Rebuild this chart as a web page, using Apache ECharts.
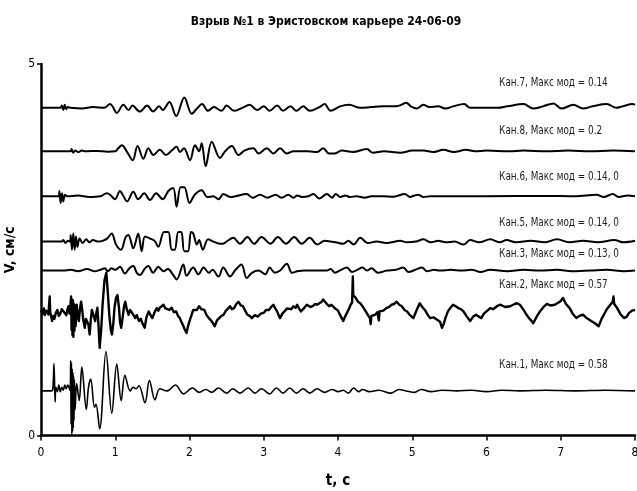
<!DOCTYPE html>
<html><head><meta charset="utf-8">
<script src="https://cdn.jsdelivr.net/npm/echarts@6/dist/echarts.min.js"></script>
<style>html,body{margin:0;padding:0;background:#fff}#c{width:637px;height:491px}</style>
</head><body><div id="c"></div>
<script>
const chartTitle = 'Взрыв №1 в Эристовском карьере 24-06-09';
const xName = 't, c';
const yName = 'V, см/с';
const xTicks = [0, 1, 2, 3, 4, 5, 6, 7, 8];
const yTicks = [0, 5];
const channelNames = ['Кан.7', 'Кан.8', 'Кан.6', 'Кан.5', 'Кан.3', 'Кан.2', 'Кан.1'];
const maxMods = ['0.14', '0.2', '0.14, 0', '0.14, 0', '0.13, 0', '0.57', '0.58'];
// trace offsets on the V axis
const baselines = [4.41, 3.825, 3.22, 2.61, 2.22, 1.67, 0.60];

// velocity traces [t, V] (cm/s)
const kan7 = [[0,0],[0.26,0],[0.28,0.03],[0.30,-0.03],[0.32,0.04],[0.34,-0.02],[0.36,0.01],[0.40,0],[0.55,-0.01],[0.70,0.01],[0.85,0],[0.93,0.05],[0.97,0.01],[1.02,-0.07],[1.11,0.04],[1.18,-0.03],[1.23,0.03],[1.33,-0.05],[1.43,0.03],[1.51,-0.05],[1.59,0.02],[1.64,-0.03],[1.73,0.08],[1.82,-0.11],[1.93,0.14],[2.03,-0.08],[2.10,-0.01],[2.17,0.05],[2.25,-0.04],[2.33,0.01],[2.43,-0.04],[2.50,0.03],[2.60,-0.04],[2.71,0],[2.81,0.04],[2.91,-0.03],[3.00,0.02],[3.08,-0.04],[3.18,0.03],[3.26,-0.04],[3.36,0.02],[3.44,-0.04],[3.53,0.02],[3.62,-0.04],[3.75,0.01],[3.82,0.05],[3.90,-0.04],[4.03,0.02],[4.15,0.04],[4.30,0],[4.45,0.01],[4.60,0.02],[4.78,0.02],[4.85,0.04],[4.92,0.07],[4.98,0.02],[5.06,-0.01],[5.15,0.04],[5.23,0.01],[5.35,0.02],[5.45,-0.01],[5.55,0.02],[5.70,0.05],[5.78,0],[5.90,0],[6.15,0],[6.28,0.02],[6.50,0.05],[6.63,-0.01],[6.76,0.02],[6.90,0.06],[7.01,-0.01],[7.17,0.04],[7.30,-0.01],[7.43,0.02],[7.62,0.05],[7.75,0],[7.83,0.02],[7.97,0.05],[8.0,0.04]];
const kan8 = [[0,0],[0.40,0],[0.41,0.03],[0.435,-0.02],[0.46,0.01],[0.50,-0.01],[0.55,0.01],[0.60,0],[0.75,0.005],[0.90,-0.005],[1.00,0],[1.04,0.04],[1.09,0.08],[1.16,-0.01],[1.235,-0.12],[1.30,0.07],[1.378,-0.10],[1.446,0.04],[1.513,-0.05],[1.60,0.02],[1.683,-0.05],[1.76,0.01],[1.827,0.06],[1.87,-0.01],[1.926,0.04],[2.007,-0.12],[2.074,0.08],[2.13,0],[2.164,0.11],[2.218,-0.20],[2.30,0.13],[2.41,-0.09],[2.48,0],[2.57,0.07],[2.66,-0.05],[2.74,0.01],[2.86,0.04],[2.93,-0.03],[3.04,0.04],[3.13,-0.03],[3.22,0.04],[3.31,-0.03],[3.40,0],[3.60,0],[3.72,-0.01],[3.80,0.04],[3.88,-0.03],[3.95,-0.03],[4.05,0.01],[4.20,-0.01],[4.39,0.03],[4.47,-0.02],[4.62,0],[4.84,-0.02],[5.00,0.01],[5.15,0.01],[5.28,-0.01],[5.42,0.02],[5.56,-0.01],[5.72,0.02],[5.85,0],[6.0,0.01],[6.3,0],[6.5,0.01],[6.8,0],[7.1,0.01],[7.4,0],[7.7,0.01],[8.0,0]];
const kan6 = [[0,0],[0.24,0],[0.247,0.07],[0.265,-0.09],[0.283,0.04],[0.30,-0.07],[0.323,0.02],[0.35,0],[0.50,0.01],[0.65,-0.01],[0.80,0],[0.885,0.04],[0.93,0.02],[0.997,-0.04],[1.064,0.07],[1.10,0.02],[1.16,-0.07],[1.243,0.06],[1.31,-0.04],[1.39,0.04],[1.468,-0.05],[1.55,0.04],[1.64,-0.04],[1.715,0.07],[1.78,0.11],[1.827,-0.14],[1.88,0.12],[1.93,0.12],[2.00,-0.09],[2.07,0.02],[2.164,0.08],[2.24,-0.01],[2.32,0],[2.39,-0.04],[2.455,0.03],[2.55,-0.01],[2.62,0],[2.77,0.03],[2.85,-0.02],[2.95,0.02],[3.05,-0.02],[3.16,0.02],[3.24,-0.02],[3.33,0.02],[3.40,-0.02],[3.45,0.01],[3.52,-0.01],[3.60,0],[3.67,0.03],[3.75,-0.03],[3.85,0.03],[3.92,-0.02],[3.97,0.03],[4.03,-0.01],[4.10,0.01],[4.16,-0.01],[4.25,0],[4.36,-0.02],[4.45,0],[4.60,0],[4.75,-0.005],[4.90,0.03],[4.97,-0.01],[5.03,0.01],[5.08,0.02],[5.15,-0.01],[5.25,0],[6.0,0],[6.8,0.005],[7.2,0],[7.48,0.02],[7.58,-0.01],[7.70,0.03],[7.78,-0.01],[7.90,0.01],[8.0,0]];
const kan5 = [[0,0],[0.28,0],[0.30,0.02],[0.33,-0.02],[0.36,0.01],[0.39,0],[0.40,0.09],[0.417,-0.11],[0.435,0.11],[0.453,-0.11],[0.471,0.07],[0.489,-0.07],[0.52,0.04],[0.56,-0.02],[0.61,0.03],[0.65,-0.01],[0.70,0.02],[0.77,0],[0.83,0.01],[0.89,0.04],[0.952,0.11],[1.01,-0.04],[1.077,-0.11],[1.14,0.06],[1.176,0.09],[1.243,-0.09],[1.31,0.11],[1.356,-0.13],[1.40,0.07],[1.47,0.04],[1.53,0.01],[1.58,-0.07],[1.657,0.13],[1.715,0.13],[1.76,-0.11],[1.80,-0.11],[1.85,0.13],[1.89,0.13],[1.93,-0.13],[1.98,-0.13],[2.02,0.13],[2.05,0.11],[2.10,-0.04],[2.13,0.02],[2.18,-0.11],[2.25,0.03],[2.32,0],[2.42,-0.03],[2.47,-0.02],[2.59,0.05],[2.68,-0.03],[2.78,0.06],[2.87,-0.03],[2.97,0.06],[3.09,-0.03],[3.19,0.06],[3.30,-0.03],[3.41,0.06],[3.51,-0.03],[3.62,0.05],[3.72,-0.04],[3.82,0.01],[3.90,0],[3.97,-0.01],[4.07,-0.03],[4.14,0.01],[4.21,-0.04],[4.30,0.05],[4.40,-0.02],[4.52,0],[4.65,-0.02],[4.84,0.01],[4.93,-0.01],[5.05,0],[5.15,0.03],[5.25,-0.01],[5.35,0.01],[5.45,-0.01],[5.57,0],[5.69,-0.04],[5.78,0.02],[5.90,-0.01],[6.05,0.03],[6.18,-0.01],[6.27,0.02],[6.40,-0.01],[6.60,0.01],[6.78,-0.01],[6.95,0.03],[7.12,-0.01],[7.30,0.01],[7.50,-0.01],[7.72,0.02],[7.85,-0.01],[8.0,0.01]];
const kan3 = [[0,0],[0.30,0],[0.40,0.01],[0.50,-0.01],[0.62,0.02],[0.72,-0.01],[0.80,0.01],[0.86,0.03],[0.90,-0.01],[0.95,0.03],[1.00,0.01],[1.064,0.05],[1.13,-0.04],[1.19,0.03],[1.243,0.06],[1.29,-0.03],[1.333,-0.06],[1.40,0.03],[1.445,0.06],[1.51,-0.03],[1.58,0.05],[1.65,-0.01],[1.71,0.02],[1.78,-0.06],[1.827,-0.12],[1.917,0.08],[1.96,-0.07],[2.05,0.04],[2.12,-0.05],[2.19,0.04],[2.26,-0.03],[2.31,0.01],[2.39,-0.08],[2.455,0.04],[2.545,-0.08],[2.62,0.01],[2.70,0.08],[2.77,-0.10],[2.84,-0.03],[2.93,0],[3.02,-0.05],[3.08,0.04],[3.15,-0.03],[3.22,0],[3.31,0.09],[3.38,-0.03],[3.45,-0.01],[3.55,0],[3.85,0],[3.90,0.02],[3.96,-0.03],[4.04,0.01],[4.12,0.04],[4.19,-0.02],[4.26,0.01],[4.33,0.04],[4.39,0],[4.45,0.03],[4.54,-0.03],[4.66,0],[4.78,0.01],[4.88,0.04],[4.95,-0.02],[5.04,0.01],[5.13,0.04],[5.20,-0.01],[5.29,0.01],[5.38,0],[5.52,0.01],[5.66,0],[5.80,0.01],[5.92,-0.02],[6.05,0.01],[6.28,-0.01],[6.50,0.01],[6.72,0],[6.95,0.01],[7.15,-0.01],[7.40,0],[7.62,0.01],[7.85,-0.01],[8.0,0]];
const kan2 = [[0,0.02],[0.02,-0.03],[0.04,0.04],[0.05,-0.05],[0.07,0.01],[0.09,0.03],[0.10,-0.04],[0.117,0.20],[0.125,-0.02],[0.14,-0.08],[0.15,-0.13],[0.165,-0.06],[0.18,-0.10],[0.20,-0.02],[0.22,0.02],[0.24,-0.06],[0.26,-0.03],[0.28,0.03],[0.30,0.05],[0.32,-0.02],[0.34,-0.05],[0.355,0.02],[0.37,0.07],[0.385,-0.03],[0.395,0.05],[0.405,0.20],[0.412,-0.25],[0.418,0.16],[0.424,-0.32],[0.43,0.15],[0.436,-0.34],[0.442,0.10],[0.45,-0.26],[0.458,0.08],[0.466,-0.20],[0.48,0.09],[0.495,-0.06],[0.51,-0.13],[0.525,0.04],[0.54,0.13],[0.555,0.02],[0.57,-0.12],[0.59,-0.22],[0.605,-0.10],[0.62,-0.09],[0.64,-0.18],[0.655,-0.31],[0.67,-0.12],[0.685,0.02],[0.70,0.02],[0.715,-0.08],[0.73,-0.13],[0.745,-0.02],[0.76,0.05],[0.775,-0.20],[0.79,-0.49],[0.81,-0.25],[0.83,0.10],[0.855,0.42],[0.88,0.52],[0.90,0.25],[0.92,-0.05],[0.94,-0.25],[0.956,-0.31],[0.975,-0.15],[0.99,0.05],[1.01,0.18],[1.03,0.22],[1.05,0.05],[1.065,-0.15],[1.08,-0.22],[1.10,-0.08],[1.12,0.08],[1.135,0.13],[1.155,0.03],[1.18,-0.045],[1.20,0.02],[1.22,0.02],[1.24,-0.04],[1.27,-0.09],[1.29,-0.05],[1.32,-0.13],[1.345,-0.10],[1.37,-0.17],[1.396,-0.22],[1.42,-0.08],[1.45,0],[1.47,-0.04],[1.50,-0.09],[1.53,-0.01],[1.56,0.045],[1.58,0.01],[1.60,0.05],[1.625,0.03],[1.65,0.09],[1.675,0.04],[1.70,0.06],[1.73,0.02],[1.76,0.05],[1.79,-0.01],[1.82,0],[1.845,-0.06],[1.87,-0.09],[1.89,-0.14],[1.91,-0.18],[1.935,-0.24],[1.96,-0.29],[1.98,-0.20],[2.00,-0.13],[2.03,-0.04],[2.05,0.02],[2.07,0.045],[2.10,0.02],[2.13,0.07],[2.16,0.03],[2.20,0.02],[2.23,-0.05],[2.26,-0.09],[2.29,-0.12],[2.31,-0.15],[2.34,-0.20],[2.37,-0.12],[2.40,-0.09],[2.43,-0.06],[2.46,-0.045],[2.49,0.01],[2.52,0.04],[2.545,0.07],[2.57,0.03],[2.60,0.045],[2.63,0.10],[2.66,0.13],[2.69,0.08],[2.72,0.07],[2.75,0.01],[2.78,-0.045],[2.81,-0.06],[2.84,-0.09],[2.88,-0.05],[2.92,-0.07],[2.96,-0.03],[3.00,-0.02],[3.03,0.02],[3.07,0.02],[3.10,0.06],[3.13,0.09],[3.155,0.04],[3.18,0],[3.20,-0.05],[3.22,-0.09],[3.25,-0.03],[3.28,0],[3.31,0.04],[3.33,0.045],[3.37,0.03],[3.40,0.07],[3.43,0.05],[3.45,0.09],[3.48,0.03],[3.50,0],[3.53,0.03],[3.55,0.045],[3.58,0.09],[3.60,0.11],[3.63,0.06],[3.66,0.07],[3.69,0.10],[3.72,0.09],[3.75,0.11],[3.78,0.13],[3.80,0.16],[3.82,0.18],[3.85,0.10],[3.88,0.07],[3.91,0.09],[3.93,0.09],[3.95,0.05],[3.97,0.045],[4.00,0.01],[4.02,0],[4.045,-0.08],[4.07,-0.13],[4.095,-0.07],[4.12,-0.045],[4.145,0.03],[4.17,0.09],[4.19,0.12],[4.20,0.47],[4.205,0.22],[4.22,0.20],[4.24,0.18],[4.27,0.13],[4.30,0.11],[4.33,0.07],[4.35,0.045],[4.38,-0.01],[4.41,-0.06],[4.43,-0.09],[4.44,-0.17],[4.45,-0.06],[4.50,-0.045],[4.53,-0.01],[4.55,-0.12],[4.56,0.0],[4.57,0.02],[4.61,0.01],[4.65,0.045],[4.69,0.06],[4.72,0.09],[4.755,0.10],[4.79,0.13],[4.825,0.09],[4.86,0.07],[4.895,0.02],[4.93,0],[4.97,-0.05],[5.015,-0.09],[5.06,0.02],[5.10,0.11],[5.135,0.06],[5.17,0.02],[5.205,-0.04],[5.24,-0.09],[5.285,-0.08],[5.33,-0.11],[5.375,-0.14],[5.40,-0.22],[5.42,-0.18],[5.45,-0.08],[5.48,0],[5.515,0.05],[5.55,0.09],[5.585,0.07],[5.62,0.045],[5.655,0.03],[5.69,0],[5.735,-0.07],[5.78,-0.13],[5.82,-0.07],[5.86,-0.045],[5.895,-0.07],[5.93,-0.09],[5.965,-0.03],[6.00,0],[6.05,0.045],[6.09,0.03],[6.14,0.07],[6.19,0.09],[6.25,0.06],[6.32,0.07],[6.38,0.10],[6.41,0.11],[6.45,0.09],[6.50,0.02],[6.54,-0.045],[6.58,-0.10],[6.61,-0.13],[6.63,-0.16],[6.67,-0.08],[6.72,0],[6.76,0.05],[6.81,0.10],[6.86,0.08],[6.92,0.09],[6.97,0.12],[7.00,0.14],[7.03,0.18],[7.07,0.10],[7.12,0.045],[7.16,-0.03],[7.21,-0.09],[7.25,-0.06],[7.30,-0.045],[7.35,-0.09],[7.41,-0.13],[7.46,-0.16],[7.51,-0.20],[7.55,-0.10],[7.58,-0.045],[7.62,0.03],[7.66,0.08],[7.70,0.13],[7.71,0.20],[7.72,0.10],[7.76,0.045],[7.80,-0.03],[7.85,-0.09],[7.89,-0.07],[7.92,-0.02],[7.96,0.01],[8.00,0.02]];
const kan1 = [[0,0],[0.14,0],[0.16,0.03],[0.175,0.37],[0.19,-0.15],[0.20,0.05],[0.22,-0.01],[0.24,0.08],[0.26,-0.01],[0.28,0.05],[0.30,0.01],[0.32,0.08],[0.34,0.03],[0.36,0.08],[0.39,0.01],[0.40,0.41],[0.405,-0.45],[0.41,0.38],[0.415,-0.58],[0.42,0.30],[0.425,-0.55],[0.43,0.25],[0.435,-0.50],[0.44,0.20],[0.445,-0.40],[0.45,0.15],[0.46,-0.25],[0.48,0.10],[0.515,-0.13],[0.55,0.32],[0.61,-0.25],[0.64,0.05],[0.67,0.16],[0.72,-0.22],[0.74,-0.18],[0.79,-0.51],[0.875,0.53],[0.953,-0.30],[1.02,0.36],[1.08,-0.13],[1.13,0.21],[1.20,0],[1.24,0.05],[1.28,0.03],[1.32,0.07],[1.40,-0.16],[1.46,0.14],[1.535,-0.12],[1.60,0.03],[1.70,0],[1.81,0.08],[1.92,-0.04],[2.04,0.04],[2.13,-0.02],[2.22,0.02],[2.30,-0.02],[2.39,0.04],[2.50,-0.03],[2.58,0.03],[2.68,-0.03],[2.79,0.04],[2.88,-0.03],[2.97,0.03],[3.08,-0.04],[3.17,0.04],[3.26,-0.03],[3.35,0.04],[3.44,-0.03],[3.53,0.03],[3.62,-0.03],[3.72,0.03],[3.82,-0.02],[3.92,0.02],[4.00,-0.01],[4.07,0.01],[4.14,-0.03],[4.21,0.04],[4.28,-0.01],[4.33,0.02],[4.42,-0.01],[4.55,0.01],[4.71,-0.03],[4.82,0.02],[4.92,0],[5.03,-0.02],[5.12,0.02],[5.25,-0.01],[5.40,0.01],[5.60,0],[5.80,0.01],[6.00,-0.01],[6.20,0.01],[6.45,0],[6.80,0.01],[7.20,0],[7.60,0.01],[8.00,0]];

const traces = [kan7, kan8, kan6, kan5, kan3, kan2, kan1];

// --- presentation ---
const FONT = "'Liberation Sans Narrow','Arial Narrow','DejaVu Sans Condensed',sans-serif";
const labelAnchorX = 6.17;
const labelAnchorY = [4.74, 4.10, 3.48, 2.86, 2.45, 2.03, 0.95];
const widths = [2, 2, 2, 2, 2, 2.4, 1.6];

const series = traces.map((tr, i) => ({
  type: 'line',
  name: channelNames[i],
  data: tr.map(p => [p[0], baselines[i] + p[1]]),
  showSymbol: false,
  smooth: i === 5 ? false : 0.35,
  lineStyle: { color: '#000', width: widths[i], join: 'round' },
  silent: true,
  animation: false
}));

const chart = echarts.init(document.getElementById('c'), null, { renderer: 'canvas' });
chart.setOption({
  backgroundColor: '#fff',
  animation: false,
  title: {
    text: chartTitle, left: 321, top: 11, textAlign: 'center',
    textStyle: { fontFamily: FONT, fontSize: 12, fontWeight: 'bold', color: '#000' }
  },
  grid: { left: 41, right: 2, top: 64, bottom: 55.5, containLabel: false, outerBoundsMode: 'none' },
  xAxis: {
    type: 'value', min: xTicks[0], max: xTicks[xTicks.length - 1], interval: 1,
    name: xName, nameLocation: 'middle', nameGap: 38,
    nameTextStyle: { fontFamily: FONT, fontSize: 15, fontWeight: 'bold', color: '#000' },
    axisLine: { show: true, onZero: false, lineStyle: { color: '#000', width: 2.5 } },
    axisTick: { show: true, length: 5, lineStyle: { color: '#000', width: 1.5 } },
    axisLabel: { fontFamily: FONT, fontSize: 12, color: '#000', margin: 11 },
    splitLine: { show: false }
  },
  yAxis: {
    type: 'value', min: yTicks[0], max: yTicks[yTicks.length - 1], interval: 5,
    name: yName, nameLocation: 'middle', nameGap: 19, nameRotate: 90,
    nameTextStyle: { fontFamily: FONT, fontSize: 14, fontWeight: 'bold', color: '#000' },
    axisLine: { show: true, onZero: false, lineStyle: { color: '#000', width: 2.5 } },
    axisTick: { show: true, length: 4, lineStyle: { color: '#000', width: 1.5 } },
    axisLabel: { fontFamily: FONT, fontSize: 12, color: '#000', margin: 6 },
    splitLine: { show: false }
  },
  series: series
});

// channel captions: narrow text anchored to data coordinates
const captions = channelNames.map((n, i) => {
  const p = chart.convertToPixel({ gridIndex: 0 }, [labelAnchorX, labelAnchorY[i]]);
  return {
    type: 'text', x: p[0], y: p[1], scaleX: 0.82, silent: true,
    style: {
      text: n + ', Макс мод = ' + maxMods[i],
      fontFamily: FONT, fontSize: 12, fill: '#1a1a1a',
      verticalAlign: 'middle', align: 'left'
    }
  };
});
chart.setOption({ graphic: captions });
</script></body></html>
